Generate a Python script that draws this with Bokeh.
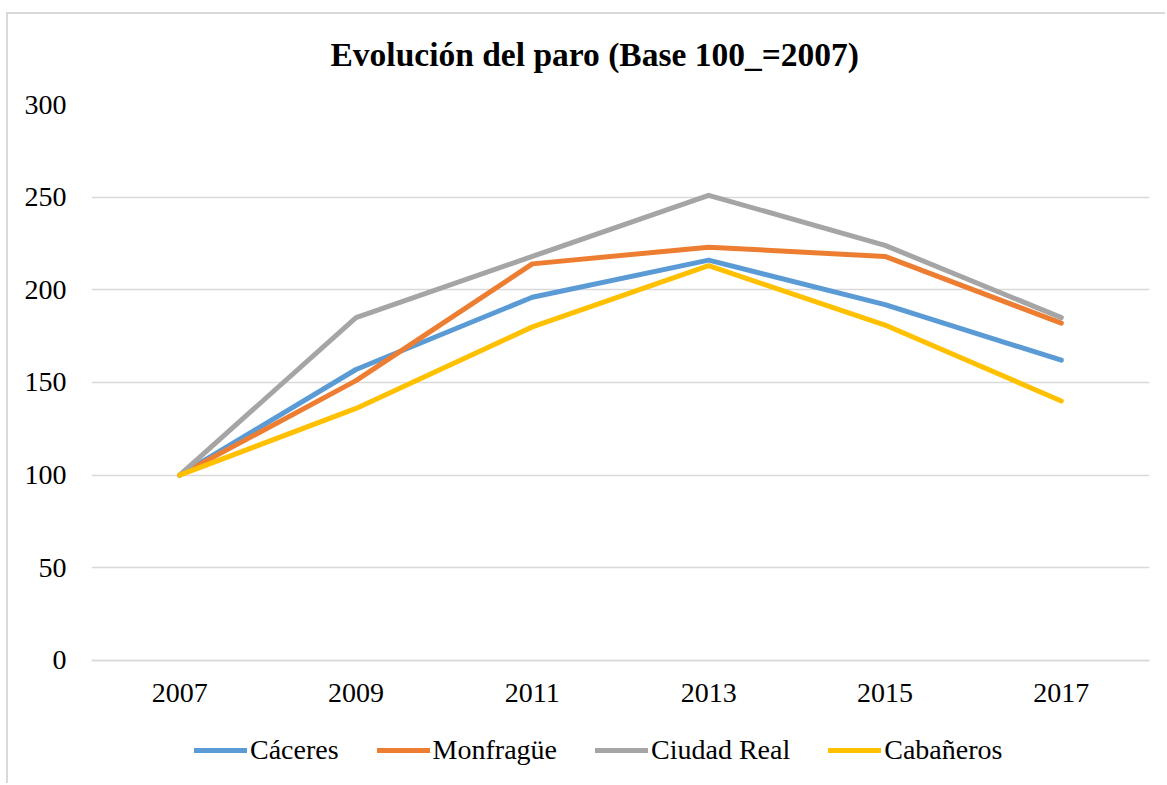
from bokeh.plotting import figure
from bokeh.models import Legend, LegendItem, Range1d, FactorRange, FixedTicker
from bokeh.embed import file_html
from bokeh.resources import INLINE

years = ["2007", "2009", "2011", "2013", "2015", "2017"]
caceres = [100, 157, 196, 216, 192, 162]
monfrague = [100, 151, 214, 223, 218, 182]
ciudad_real = [100, 185, 218, 251, 224, 185]
cabaneros = [100, 136, 180, 213, 181, 140]

series_names = ["Cáceres", "Monfragüe", "Ciudad Real", "Cabañeros"]
series_values = [caceres, monfrague, ciudad_real, cabaneros]
colors = ["#5B9BD5", "#ED7D31", "#A5A5A5", "#FFC000"]
y_ticks = [0, 50, 100, 150, 200, 250, 300]

FONT = "Liberation Serif"

p = figure(width=1165, height=777, x_range=FactorRange(*years), y_range=Range1d(-66.4, 300),
           output_backend="svg", toolbar_location=None,
           min_border_left=91, min_border_right=16, min_border_top=98, min_border_bottom=0)
p.styles = {"margin-top": "6px",
            "background-image": "linear-gradient(#D9D9D9, #D9D9D9), linear-gradient(#D9D9D9, #D9D9D9)",
            "background-size": "100% 2px, 2px 100%",
            "background-position": "6px 6px, 6px 6px",
            "background-repeat": "no-repeat"}
p.outline_line_color = None
p.background_fill_color = "white"
p.border_fill_color = None

p.title.text = "Evolución del paro (Base 100_=2007)"
p.title.text_font = FONT
p.title.text_font_size = "33.5px"
p.title.text_font_style = "bold"
p.title.text_color = "black"
p.title.align = "left"
p.title.offset = 239
p.title.standoff = 59
p.title.vertical_align = "top"

renderers = []
for name, vals, c in zip(series_names, series_values, colors):
    r = p.line(years, vals, line_color=c, line_width=5, line_cap="round", line_join="round")
    renderers.append((name, r))

p.yaxis.ticker = FixedTicker(ticks=y_ticks)
p.ygrid.ticker = FixedTicker(ticks=y_ticks)
p.ygrid.grid_line_color = "#D9D9D9"
p.ygrid.grid_line_width = 1.5
p.xgrid.grid_line_color = None

for ax in (p.xaxis, p.yaxis):
    ax.major_label_text_font = FONT
    ax.major_label_text_font_size = "28px"
    ax.major_label_text_color = "black"
    ax.major_tick_line_color = None
    ax.minor_tick_line_color = None

p.yaxis.axis_line_color = None
p.yaxis.major_label_standoff = 19
p.xaxis.fixed_location = 0
p.xaxis.axis_line_color = "#D9D9D9"
p.xaxis.axis_line_width = 1.5
p.xaxis.major_label_standoff = 18

legend = Legend(items=[LegendItem(label=n, renderers=[r]) for n, r in renderers],
                orientation="horizontal", location=(103, 17),
                glyph_width=53, glyph_height=32, label_height=32, label_standoff=3,
                spacing=38, padding=0, margin=0,
                label_text_font=FONT, label_text_font_size="28px", label_text_color="black",
                border_line_color=None, background_fill_alpha=0)
p.add_layout(legend, "center")

open("out.html", "w").write(file_html(p, INLINE))
